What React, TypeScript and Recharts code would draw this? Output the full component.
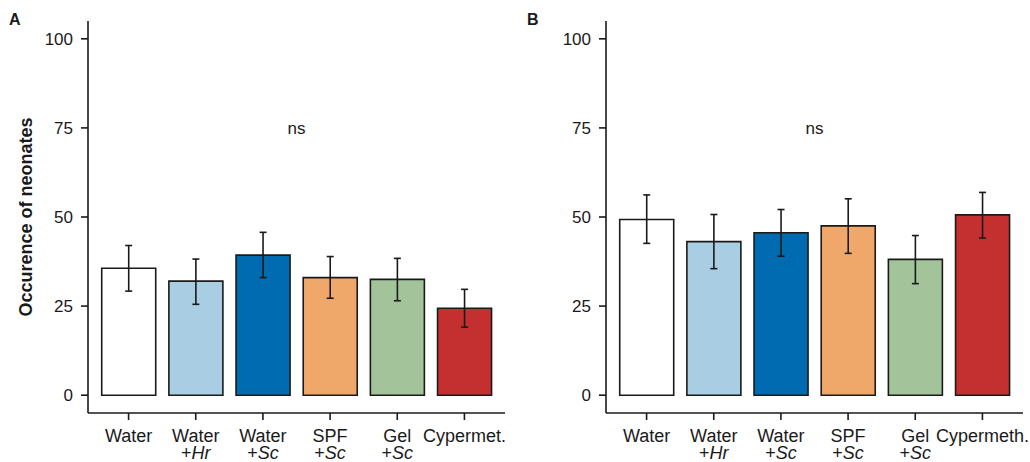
import { BarChart, Bar, XAxis, YAxis, ErrorBar, Cell, ReferenceLine } from "recharts";

const categories = ["Water", "Water +Hr", "Water +Sc", "SPF +Sc", "Gel +Sc", "Cypermethrin"];
const line1A = ["Water", "Water", "Water", "SPF", "Gel", "Cypermet."];
const line1B = ["Water", "Water", "Water", "SPF", "Gel", "Cypermeth."];
const line2 = ["", "Hr", "Sc", "Sc", "Sc", ""];

const meanA = [35.6, 32.0, 39.3, 33.0, 32.5, 24.4];
const lowA = [29.2, 25.5, 33.0, 27.2, 26.5, 19.1];
const highA = [42.0, 38.2, 45.7, 38.9, 38.4, 29.7];

const meanB = [49.3, 43.1, 45.6, 47.5, 38.1, 50.6];
const lowB = [42.6, 35.5, 39.0, 39.8, 31.3, 44.1];
const highB = [56.2, 50.7, 52.1, 55.1, 44.8, 56.9];

const yTicks = [0, 25, 50, 75, 100];
const colors = ["#FFFFFF", "#A9CDE3", "#006BB0", "#EFA86A", "#A3C49B", "#C43030"];

const font = "'Liberation Sans', Arial, sans-serif";

const build = (mean: number[], low: number[], high: number[]) =>
  categories.map((c, i) => ({
    cat: c,
    value: mean[i],
    err: [mean[i] - low[i], high[i] - mean[i]],
  }));

const dataA = build(meanA, lowA, highA);
const dataB = build(meanB, lowB, highB);

function makeTick(line1: string[]) {
  return (props: any) => {
    const { x, y, payload } = props;
    const i = categories.indexOf(payload.value);
    return (
      <g>
        <text x={x} y={y} dy={20} textAnchor="middle" fontSize={18} fill="#1a1a1a" fontFamily={font}>
          {line1[i]}
        </text>
        {line2[i] && (
          <text x={x} y={y} dy={37} textAnchor="middle" fontSize={18} fill="#1a1a1a" fontFamily={font}>
            +<tspan fontStyle="italic">{line2[i]}</tspan>
          </text>
        )}
      </g>
    );
  };
}

function Panel({ data, line1, showLabel }: { data: any[]; line1: string[]; showLabel: boolean }) {
  return (
    <BarChart
      width={515}
      height={462}
      data={data}
      margin={{ top: 21, right: 10, bottom: 0, left: 28 }}
      barCategoryGap="10%"
    >
      <XAxis
        dataKey="cat"
        padding={{ left: 7, right: 7 }}
        height={49}
        axisLine={{ stroke: "#1a1a1a", strokeWidth: 1.6 }}
        tickLine={{ stroke: "#1a1a1a", strokeWidth: 1.6 }}
        tickSize={7}
        tick={makeTick(line1)}
        interval={0}
      />
      <YAxis
        type="number"
        domain={[-5, 105]}
        ticks={yTicks}
        width={60}
        axisLine={{ stroke: "#1a1a1a", strokeWidth: 1.6 }}
        tickLine={{ stroke: "#1a1a1a", strokeWidth: 1.6 }}
        tickSize={7}
        tickMargin={8}
        tick={{ fontSize: 17, fill: "#1a1a1a", fontFamily: font }}
        label={
          showLabel
            ? {
                value: "Occurence of neonates",
                angle: -90,
                position: "center",
                dx: -32,
                style: { fontSize: 18, fontWeight: "bold", fill: "#1a1a1a", fontFamily: font },
              }
            : undefined
        }
      />
      <ReferenceLine
        y={75}
        stroke="none"
        label={{ value: "ns", position: "center", fontSize: 17, fill: "#1a1a1a", fontFamily: font }}
      />
      <Bar dataKey="value" stroke="#1a1a1a" strokeWidth={1.6} isAnimationActive={false}>
        {data.map((_, i) => (
          <Cell key={i} fill={colors[i]} />
        ))}
        <ErrorBar dataKey="err" width={3.5} stroke="#1a1a1a" strokeWidth={1.6} isAnimationActive={false} />
      </Bar>
    </BarChart>
  );
}

export default function App() {
  return (
    <div style={{ position: "absolute", left: 0, top: 0, width: 1030, height: 462, background: "#fff" }}>
      <div style={{ position: "absolute", left: 0, top: 0 }}>
        <Panel data={dataA} line1={line1A} showLabel={true} />
      </div>
      <div style={{ position: "absolute", left: 518, top: 0 }}>
        <Panel data={dataB} line1={line1B} showLabel={false} />
      </div>
      <div style={{ position: "absolute", left: 9, top: 11, fontFamily: font, fontWeight: "bold", fontSize: 16, color: "#1a1a1a" }}>
        A
      </div>
      <div style={{ position: "absolute", left: 527, top: 11, fontFamily: font, fontWeight: "bold", fontSize: 16, color: "#1a1a1a" }}>
        B
      </div>
    </div>
  );
}
